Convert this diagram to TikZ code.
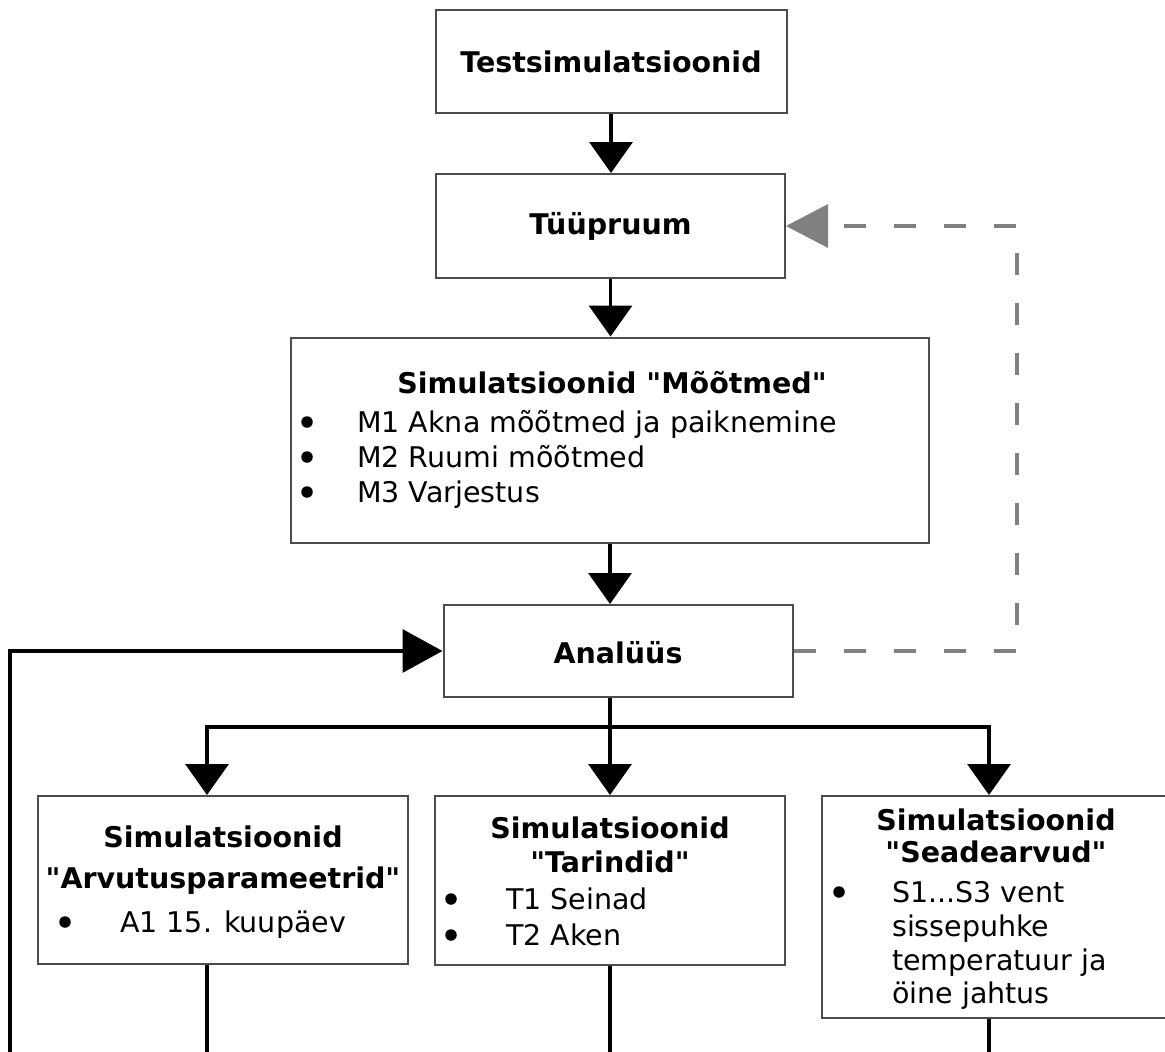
\documentclass[tikz,border=0pt]{standalone}
\usepackage{fontspec}
\setmainfont{DejaVu Sans}[Ligatures=TeXOff]
\usetikzlibrary{arrows.meta}

\begin{document}
\begin{tikzpicture}[x=1pt,y=-1pt,
    box/.style={draw=black!70, line width=2pt, inner sep=0pt},
    txt/.style={inner sep=0pt, anchor=base west, font=\fontsize{28.5}{34}\selectfont},
    ttl/.style={inner sep=0pt, anchor=base, font=\fontsize{28.5}{34}\selectfont\bfseries},
    dot/.style={circle, fill=black, inner sep=0pt, minimum size=11.5pt},
    line/.style={line width=3.3pt},
    flow/.style={line width=3.3pt, -{Triangle[length=31pt,width=43pt]}},
    back/.style={line width=3.3pt, draw=gray, dash pattern=on 22pt off 28pt,
        -{Triangle[length=42pt,width=43pt,fill=gray]}}]
    \useasboundingbox (0,0) rectangle (1165,1052);
    % main column
    \node[box, minimum width=351pt, minimum height=103pt] (test) at (611,61.5) {};
    \node[box, minimum width=349pt, minimum height=104pt] (tyyp) at (610.5,226) {};
    \node[box, minimum width=638pt, minimum height=205pt] (moot) at (610,440) {};
    \node[box, minimum width=349pt, minimum height=92pt] (anal) at (618,651) {};
    \node[ttl] (ttest) at (611,72) {Testsimulatsioonid};
    \node[ttl] (ttyyp) at (610.5,234) {Tüüpruum};
    \node[ttl] (tanal) at (618,663) {Analüüs};
    % Moodud
    \node[ttl] (mtitle) at (612,393) {Simulatsioonid "Mõõtmed"};
    \node[dot] (mb1) at (307,422) {};
    \node[dot] (mb2) at (307,457) {};
    \node[dot] (mb3) at (307,492) {};
    \node[txt] (m1) at (357,432) {M1 Akna mõõtmed ja paiknemine};
    \node[txt] (m2) at (357,467) {M2 Ruumi mõõtmed};
    \node[txt] (m3) at (357,502) {M3 Varjestus};
    % lower boxes
    \node[box, minimum width=370pt, minimum height=168pt] (arvu) at (223,880) {};
    \node[box, minimum width=350pt, minimum height=169pt] (tari) at (610,880.5) {};
    \node[box, minimum width=350pt, minimum height=222pt] (sead) at (997,907) {};
    \node[ttl] (atitle) at (223,847) {Simulatsioonid};
    \node[ttl] (aname) at (223,888) {"Arvutusparameetrid"};
    \node[dot] (ab1) at (65,922) {};
    \node[txt] (a1) at (120,932) {A1 15. kuupäev};
    \node[ttl] (ttitle) at (610,838) {Simulatsioonid};
    \node[ttl] (tname) at (610,872) {"Tarindid"};
    \node[dot] (tb1) at (451,899) {};
    \node[dot] (tb2) at (451,935) {};
    \node[txt] (t1) at (506,909) {T1 Seinad};
    \node[txt] (t2) at (506,945) {T2 Aken};
    \node[ttl] (stitle) at (996,830) {Simulatsioonid};
    \node[ttl] (sname) at (996,862) {"Seadearvud"};
    \node[dot] (sb1) at (839,892) {};
    \node[txt] (s1) at (892,902) {S1...S3 vent};
    \node[txt] (s2) at (892,936) {sissepuhke};
    \node[txt] (s3) at (892,970) {temperatuur ja};
    \node[txt] (s4) at (892,1003) {öine jahtus};
    % connectors
    \draw[flow] (test.south) -- (test.south |- tyyp.north);
    \draw[flow] (tyyp.south) -- (tyyp.south |- moot.north);
    \draw[flow] (moot.south) -- (moot.south |- anal.north);
    \coordinate (split) at (610,727);
    \coordinate (ain) at (207,727);
    \coordinate (sin) at (989,727);
    \draw[line] (anal.south -| split) -- (split);
    \draw[flow] (split) -| (ain |- arvu.north);
    \draw[flow] (split) -- (tari.north);
    \draw[flow] (split) -| (sin |- sead.north);
    \coordinate (aout) at (207,1052);
    \coordinate (tout) at (610,1052);
    \coordinate (sout) at (989,1052);
    \draw[line] (aout |- arvu.south) -- (aout);
    \draw[line] (tari.south) -- (tout);
    \draw[line] (sout |- sead.south) -- (sout);
    \coordinate (loop) at (10,1052);
    \draw[line width=3.3pt, -{Triangle[length=40pt,width=43pt]}] (loop) |- (anal.west);
    % return to Tyypruum
    \coordinate (ret) at (1017,651);
    \draw[back] (anal.east) -- (ret) |- (tyyp.east);
\end{tikzpicture}
\end{document}
